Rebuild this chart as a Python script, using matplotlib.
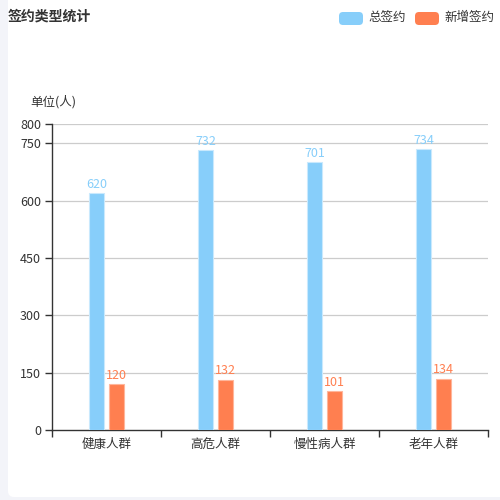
import matplotlib
matplotlib.use("Agg")
import matplotlib.pyplot as plt
from matplotlib.patches import FancyBboxPatch
import numpy as np

plt.rcParams['font.family'] = ['Noto Sans CJK SC', 'DejaVu Sans']

categories = ['健康人群', '高危人群', '慢性病人群', '老年人群']
total_sign = [620, 732, 701, 734]
new_sign = [120, 132, 101, 134]
series_names = ['总签约', '新增签约']
y_ticks = [0, 150, 300, 450, 600, 750, 800]

blue = '#87CEFA'
orange = '#FF7F50'
txt = '#333333'

W, H = 500, 500
fig = plt.figure(figsize=(5, 5), dpi=100)
fig.patch.set_facecolor('#F3F4F9')

# white card
card = FancyBboxPatch((8 / W, 3 / H), 1.2, 1.2, boxstyle="round,pad=0,rounding_size=0.012",
                      transform=fig.transFigure, facecolor='white', edgecolor='none', zorder=-10)
fig.patches.append(card)

ax_l, ax_r, ax_b, ax_t = 52, 488, 430, 124
ax = fig.add_axes([ax_l / W, 1 - ax_b / H, (ax_r - ax_l) / W, (ax_b - ax_t) / H])
ax.set_facecolor('none')
ax.set_zorder(5)

x = np.arange(len(categories))
bw = 0.138
off = 0.09
ax.bar(x - off, total_sign, bw, color=blue, edgecolor='#C9E9FD', linewidth=0.8, zorder=3)
ax.bar(x + off, new_sign, bw, color=orange, edgecolor='#FFB69B', linewidth=0.8, zorder=3)

for xi, v in zip(x - off, total_sign):
    ax.text(xi, v + 6, str(v), ha='center', va='bottom', color=blue, fontsize=9)
for xi, v in zip(x + off, new_sign):
    ax.text(xi, v + 6, str(v), ha='center', va='bottom', color=orange, fontsize=9)

ax.set_xlim(-0.5, len(categories) - 0.5)
ax.set_ylim(0, 800)
ax.set_yticks(y_ticks)
ax.set_yticklabels([str(t) for t in y_ticks], color=txt, fontsize=9)
for t in y_ticks:
    if t > 0:
        ax.axhline(t, color='#CCCCCC', linewidth=0.9, zorder=1)

ax.set_xticks(x)
ax.set_xticklabels(categories, color=txt, fontsize=9)
ax.tick_params(axis='x', length=0, pad=6)
ax.set_xticks(np.arange(-0.5, len(categories)), minor=True)
ax.tick_params(axis='x', which='minor', length=5, color=txt, width=1)
ax.tick_params(axis='y', length=5, color=txt, width=1, pad=3)

for s in ['top', 'right']:
    ax.spines[s].set_visible(False)
for s in ['left', 'bottom']:
    ax.spines[s].set_color(txt)
    ax.spines[s].set_linewidth(1)

# title
fig.text(8 / W, 1 - 17 / H, '签约类型统计', fontsize=10, fontweight='bold', color=txt,
         ha='left', va='center')
# unit label
fig.text(30 / W, 1 - 102 / H, '单位(人)', fontsize=9, color=txt, ha='left', va='center')

# legend
leg_items = [(339, blue, series_names[0]), (415, orange, series_names[1])]
for lx, c, name in leg_items:
    p = FancyBboxPatch((lx / W, 1 - 25 / H), 24 / W, 13 / H,
                       boxstyle="round,pad=0,rounding_size=0.008",
                       transform=fig.transFigure, facecolor=c, edgecolor='none', zorder=2)
    fig.patches.append(p)
    fig.text((lx + 29) / W, 1 - 18 / H, name, fontsize=9, color=txt, ha='left', va='center')

fig.savefig('out.png', dpi=100, facecolor=fig.get_facecolor())
